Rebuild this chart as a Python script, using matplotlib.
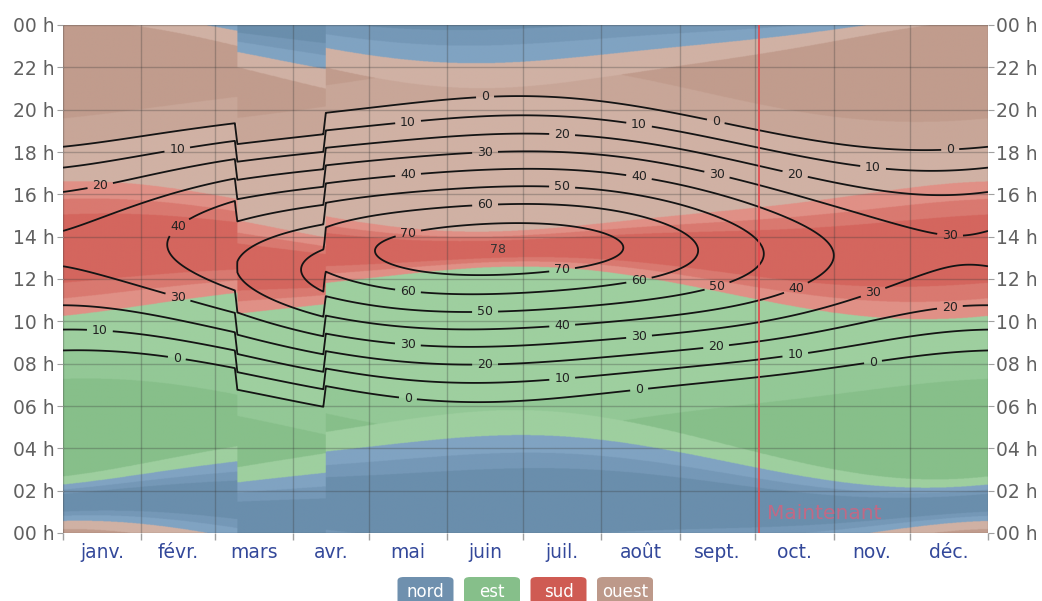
import numpy as np
import matplotlib
matplotlib.use("Agg")
import matplotlib.pyplot as plt
from matplotlib.patches import FancyBboxPatch

# ---- data -------------------------------------------------------------
MONTHS = ['janv.', 'févr.', 'mars', 'avr.', 'mai', 'juin',
          'juil.', 'août', 'sept.', 'oct.', 'nov.', 'déc.']
MONTH_DAYS = [31, 29, 31, 30, 31, 30, 31, 31, 30, 31, 30, 31]   # 2024

LATITUDE = 35.76          # degrees north
LONGITUDE = -5.80         # degrees east
UTC_OFFSET = 1.0          # usual clock offset (h)
SUSPENDED_OFFSET = 0.0    # clock offset during the spring suspension (h)
SUSPENSION_START = 69     # day index (10 March)
SUSPENSION_END = 104      # day index (14 April)
NOW_DAY = 275.5           # 2 October

ELEVATION_LEVELS = [0, 10, 20, 30, 40, 50, 60, 70]
PEAK_ELEVATION = 78
TWILIGHT_LIMIT = -15.0    # elevation under which the sky counts as night

DIRECTIONS = ['nord', 'est', 'sud', 'ouest']
HOUR_LABELS = ['00 h', '02 h', '04 h', '06 h', '08 h', '10 h', '12 h',
               '14 h', '16 h', '18 h', '20 h', '22 h', '00 h']

# label anchors for the elevation isolines (day index, clock hour)
LABEL_SPOTS = [
    (167.0, 20.60), (258.4, 19.51), (351.0, 18.23),
    (136.5, 19.46), (227.9, 19.27), (320.5, 17.24), (45.1, 18.19),
    (14.6, 16.49), (197.5, 18.85), (289.7, 16.96),
    (167.0, 18.00), (258.8, 16.96), (351.0, 14.08),
    (136.5, 16.96), (227.9, 16.82), (45.5, 14.50),
    (197.5, 16.39), (258.8, 11.67),
    (167.0, 15.54), (136.5, 11.43), (227.9, 11.95),
    (136.5, 14.22), (197.5, 12.42),
    (45.5, 11.15), (289.7, 11.67), (320.5, 11.38), (351.0, 10.58),
    (14.6, 9.59), (45.1, 8.31),
    (136.5, 8.97), (167.0, 10.49), (197.5, 9.83), (227.9, 9.31),
    (258.4, 8.83), (289.7, 8.46), (320.5, 8.08),
    (167.0, 7.98), (197.5, 7.32), (227.9, 6.85), (136.5, 6.38),
]

# ---- styling -----------------------------------------------------------
# shades per direction: dark, mid, light
PALETTE = {
    'nord':  ['#6a8eac', '#7598b7', '#80a3c2'],
    'est':   ['#87bf8a', '#93c896', '#9ecf9f'],
    'sud':   ['#d4665e', '#d97970', '#e09086'],
    'ouest': ['#c19c8d', '#c8a698', '#d0b1a4'],
}
LEGEND_COLORS = {'nord': '#6f90ae', 'est': '#86bf8a',
                 'sud': '#cf5b53', 'ouest': '#bd998a'}
TICK_FONT = 'DejaVu Sans'


def clock_offset(day_index):
    day_index = np.asarray(day_index)
    inside = (day_index >= SUSPENSION_START) & (day_index < SUSPENSION_END)
    return np.where(inside, SUSPENDED_OFFSET, UTC_OFFSET)


def sun_position(day, clock_hour, offset):
    """Solar elevation and azimuth (degrees) - NOAA approximation."""
    utc = clock_hour - offset
    g = 2 * np.pi / 366.0 * (day + (utc - 12.0) / 24.0)
    eqt = 229.18 * (0.000075 + 0.001868 * np.cos(g) - 0.032077 * np.sin(g)
                    - 0.014615 * np.cos(2 * g) - 0.040849 * np.sin(2 * g))
    decl = (0.006918 - 0.399912 * np.cos(g) + 0.070257 * np.sin(g)
            - 0.006758 * np.cos(2 * g) + 0.000907 * np.sin(2 * g)
            - 0.002697 * np.cos(3 * g) + 0.00148 * np.sin(3 * g))
    tst = utc * 60.0 + eqt + 4.0 * LONGITUDE
    ha = np.radians(tst / 4.0 - 180.0)
    lat = np.radians(LATITUDE)
    sin_el = (np.sin(lat) * np.sin(decl)
              + np.cos(lat) * np.cos(decl) * np.cos(ha))
    el = np.degrees(np.arcsin(np.clip(sin_el, -1, 1)))
    az = np.degrees(np.arctan2(np.sin(ha),
                               np.cos(ha) * np.sin(lat) - np.tan(decl) * np.cos(lat)))
    return el, (az + 180.0) % 360.0


n_days = sum(MONTH_DAYS)
month_starts = np.concatenate([[0], np.cumsum(MONTH_DAYS)])
month_centers = month_starts[:-1] + np.array(MONTH_DAYS) / 2.0

# ---- figure ------------------------------------------------------------
fig = plt.figure(figsize=(10.42, 6.01), dpi=100)
ax = fig.add_axes([63 / 1042, 68 / 601, 925 / 1042, 508 / 601])

# background: sun direction (azimuth) for every moment of the year
bx = (np.arange(n_days * 2) + 0.5) / 2.0
by = (np.arange(24 * 60) + 0.5) / 60.0
BX, BY = np.meshgrid(bx, by)
bel, az = sun_position(BX, BY, clock_offset(np.floor(BX)))
quad = (((az + 45.0) % 360.0) // 90.0).astype(int)
dist = np.abs(((az + 45.0) % 90.0) - 45.0)

# north / south: shade by distance to the cardinal point
shade = np.digitize(dist, [25.0, 35.0])
# east / west: lighter by day and near the quadrant edges
side = (quad == 1) | (quad == 3)
side_shade = np.where((bel > 0.0) | (dist > 33.0), 2,
                      np.where(bel > TWILIGHT_LIMIT, 1, 0))
shade = np.where(side, side_shade, shade)

lut = np.array([[matplotlib.colors.to_rgb(c) for c in PALETTE[d]]
                for d in DIRECTIONS])
rgb = lut[quad, shade]
ax.imshow(rgb, origin='lower', extent=[0, n_days, 0, 24], aspect='auto',
          interpolation='bilinear', zorder=0)

# elevation isolines
cx = np.arange(n_days + 1, dtype=float)
cy = np.linspace(0, 24, 24 * 20 + 1)
CX, CY = np.meshgrid(cx, cy)
elev, _ = sun_position(CX, CY, clock_offset(CX))
cs = ax.contour(CX, CY, elev, levels=ELEVATION_LEVELS, colors='#141414',
                linewidths=1.3, zorder=3)
texts = ax.clabel(cs, manual=LABEL_SPOTS, inline=True, fmt='%d',
                  fontsize=9, inline_spacing=5)
for t in texts:
    t.set_rotation(0)
    t.set_color('#222222')
    t.set_fontfamily(TICK_FONT)

iy, ix = np.unravel_index(np.argmax(elev), elev.shape)
ax.text(cx[ix], cy[iy], f'{PEAK_ELEVATION}', ha='center', va='center',
        fontsize=9, color='#333333', family=TICK_FONT, zorder=4)

# "now" marker
ax.axvline(NOW_DAY, color='#e5484d', lw=1.2, zorder=4)
ax.text(NOW_DAY + 3, 0.9, 'Maintenant', color='#d0637f', alpha=0.85,
        fontsize=14.5, family=TICK_FONT, ha='left', va='center', zorder=4)

# axes
ax.set_xlim(0, n_days)
ax.set_ylim(0, 24)
ax.set_xticks(month_centers)
ax.set_xticklabels(MONTHS)
ax.set_xticks(month_starts, minor=True)
ax.set_yticks(np.arange(0, 25, 2))
ax.set_yticklabels(HOUR_LABELS)
ax.tick_params(axis='x', which='major', length=0, pad=7,
               labelsize=13.5, labelcolor='#33489a')
ax.tick_params(axis='x', which='minor', length=5, color='#a0a0a0', width=1)
ax.tick_params(axis='y', which='major', length=4.5, color='#a0a0a0',
               labelsize=13.5, labelcolor='#606060', pad=1.5,
               left=True, right=True, labelleft=True, labelright=True)
for lab in ax.get_xticklabels() + ax.get_yticklabels():
    lab.set_fontfamily(TICK_FONT)
ax.grid(True, axis='y', which='major', color='#3a3a3a', alpha=0.3, lw=1)
ax.grid(True, axis='x', which='minor', color='#3a3a3a', alpha=0.3, lw=1)
ax.set_axisbelow('line')
for s in ax.spines.values():
    s.set_visible(False)

# legend chips
W, H = 1042.0, 601.0
chip_w, chip_h, step = 56, 27, 66.5
first_center = 425.5
for i, name in enumerate(DIRECTIONS):
    cxp = first_center + i * step
    fig.patches.append(FancyBboxPatch(
        ((cxp - chip_w / 2) / W, (H - 604) / H), chip_w / W, chip_h / H,
        boxstyle='round,pad=0,rounding_size=0.006',
        transform=fig.transFigure, fc=LEGEND_COLORS[name], ec='none'))
    fig.text(cxp / W, (H - 592) / H, name, color='white', fontsize=12,
             family=TICK_FONT, ha='center', va='center')

fig.savefig('out.png', dpi=100, facecolor='white')
